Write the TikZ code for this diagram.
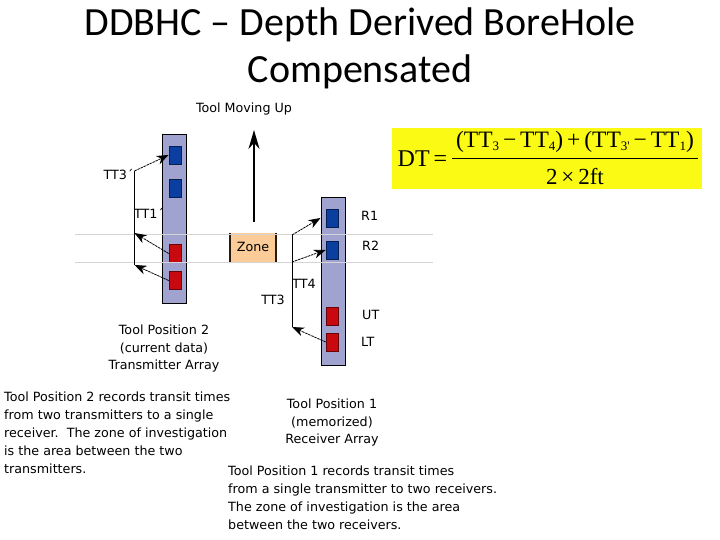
\documentclass[tikz,border=0pt]{standalone}
\usepackage{fontspec}
\setmainfont{DejaVu Sans}
\newfontfamily\titlefont{Carlito}
\newfontfamily\formfont{Liberation Serif}
\usetikzlibrary{arrows.meta}
\definecolor{barfill}{HTML}{A0A3D0}
\definecolor{bluebox}{HTML}{0A3FA0}
\definecolor{redbox}{HTML}{C80A10}
\definecolor{zonefill}{HTML}{FBCB98}
\definecolor{zonebar}{HTML}{2A1A10}
\definecolor{guide}{HTML}{D4D4D4}
\definecolor{formbg}{HTML}{FAFA14}
\newcommand{\subn}[1]{\raisebox{-3pt}{\fontsize{13}{13}\selectfont #1}}
\tikzset{
 toolbar/.style={draw=black,line width=1pt,fill=barfill,inner sep=0,minimum width=24pt},
 bluesq/.style={draw=bluebox!50!black,line width=.7pt,fill=bluebox,inner sep=0,minimum width=12pt,minimum height=18pt},
 redsq/.style={draw=redbox!50!black,line width=.7pt,fill=redbox,inner sep=0,minimum width=12pt,minimum height=18pt},
 lab/.style={inner sep=0,font=\fontsize{12.7}{12.7}\selectfont},
 para/.style={inner sep=0,font=\fontsize{12.7}{17.9}\selectfont,align=left,anchor=north west},
 cen/.style={inner sep=0,font=\fontsize{12.7}{17.3}\selectfont,align=center},
 bus/.style={line width=.9pt},
 sig/.style={line width=.8pt,dash pattern=on 2.5pt off .8pt,-{Stealth[length=12pt,width=9pt]}},
 ttl/.style={inner sep=0,font=\titlefont\fontsize{40}{47}\selectfont,align=center},
}
\begin{document}
\begin{tikzpicture}[x=1pt,y=-1pt]
\useasboundingbox (0,0) rectangle (720,540);
\fill[white] (0,0) rectangle (720,540);
\node[ttl] (title) at (360,48) {DDBHC – Depth Derived BoreHole\\Compensated};
% left tool
\node[toolbar,minimum height=168pt] (barL) at (174.5,219) {};
\node[bluesq] (b1) at (175,155) {};
\node[bluesq] (b2) at (175,188) {};
\node[redsq] (r1) at (175,253.5) {};
\node[redsq] (r2) at (175,280.5) {};
% right tool
\node[toolbar,minimum height=167pt] (barR) at (333,281.5) {};
\node[bluesq] (b3) at (332,218) {};
\node[bluesq] (b4) at (332,250) {};
\node[redsq] (r3) at (332,316) {};
\node[redsq] (r4) at (332,342) {};
% zone
\node[fill=zonefill,inner sep=0,minimum width=46pt,minimum height=29pt] (zone) at (253,247.5) {};
\draw[zonebar,line width=2.4pt] (zone.north west) -- (zone.south west);
\draw[zonebar,line width=2.4pt] (zone.north east) -- (zone.south east);
\node[lab] (zonet) at (253,247) {Zone};
% guides
\coordinate (g1a) at (75,234); \coordinate (g1b) at (433,234);
\coordinate (g2a) at (75,262); \coordinate (g2b) at (433,262);
\draw[guide,line width=.8pt] (g1a) -- (g1b);
\draw[guide,line width=.8pt] (g2a) -- (g2b);
% moving arrow
\coordinate (mvA) at (254,222); \coordinate (mvB) at (254,130);
\draw[line width=1.6pt,-{Stealth[length=19pt,width=11pt]}] (mvA) -- (mvB);
\node[lab] (mvt) at (244,109) {Tool Moving Up};
% left bus
\coordinate (l1) at (134.5,171); \coordinate (l2) at (134.5,233); \coordinate (l3) at (134.5,265);
\draw[bus] (l1) -- (l3);
\draw[sig] (l1) -- (b1.west);
\draw[sig] (r1.west) -- (l2);
\draw[sig] (r2.west) -- (l3);
% right bus
\coordinate (m1) at (292,235); \coordinate (m2) at (292,262); \coordinate (m3) at (292,327);
\draw[bus] (m1) -- (m3);
\draw[sig] (m1) -- (barR.west |- b3.west);
\draw[sig] (m2) -- (b4.west);
\draw[sig] (r4.west) -- (m3);
% labels
\node[lab] (t3p) at (118.5,175) {TT3´};
\node[lab] (t1p) at (149,213) {TT1´};
\node[lab] (t4) at (304,284) {TT4};
\node[lab] (t3) at (273,300) {TT3};
\node[lab,anchor=west] (R1) at (361,216) {R1};
\node[lab,anchor=west] (R2) at (362,246) {R2};
\node[lab,anchor=west] (UT) at (362,315) {UT};
\node[lab,anchor=west] (LT) at (361,342) {LT};
\node[cen] (pos2) at (164,348.5) {Tool Position 2\\(current data)\\Transmitter Array};
\node[cen] (pos1) at (332,422.5) {Tool Position 1\\(memorized)\\Receiver Array};
\node[para] (p2) at (4,392) {Tool Position 2 records transit times\\from two transmitters to a single\\receiver.\ \ The zone of investigation\\is the area between the two\\transmitters.};
\node[para] (p1) at (228,466) {Tool Position 1 records transit times\\from a single transmitter to two receivers.\\The zone of investigation is the area\\between the two receivers.};
% formula
\node[fill=formbg,inner sep=0,minimum width=310pt,minimum height=61pt] (fbg) at (547,158.5) {};
\node[inner sep=0,font=\formfont\fontsize{24}{24}\selectfont] (dt) at (422.5,159) {DT\,=};
\node[inner sep=0,font=\formfont\fontsize{23.5}{23.5}\selectfont] (num) at (575,142) {(TT\subn{3}\,−\,TT\subn{4})\,+\,(TT\subn{3'}\,−\,TT\subn{1})};
\node[inner sep=0,font=\formfont\fontsize{23}{23}\selectfont] (den) at (575,177) {2\,×\,2ft};
\coordinate (fa) at (452,158.5); \coordinate (fb) at (698,158.5);
\draw[line width=1pt] (fa) -- (fb);
\end{tikzpicture}
\end{document}
